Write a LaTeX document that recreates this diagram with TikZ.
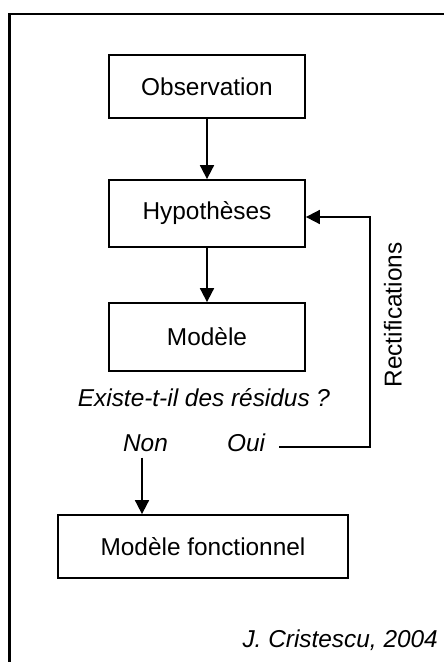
\documentclass[tikz,border=0pt]{standalone}
\usepackage{fontspec}
\setmainfont{Liberation Sans}
\usetikzlibrary{arrows.meta}
\begin{document}
\begin{tikzpicture}[x=1pt,y=1pt,
  box/.style={draw, line width=1.8pt, inner sep=0pt, font=\fontsize{24.4}{29}\selectfont},
  lbl/.style={inner sep=0pt, font=\fontsize{24.4}{29}\selectfont\itshape},
  arr/.style={line width=1.8pt, -{Triangle[length=14pt,width=14pt]}}]
\useasboundingbox (0,0) rectangle (444,-662);
\fill[white] (0,0) rectangle (444,-662);
\draw[line width=2.8pt] (9.5,-662) -- (9.5,-14) -- (444,-14);
\node[box, minimum width=196pt, minimum height=63pt] (obs) at (207,-86.5) {Observation};
\node[box, minimum width=196pt, minimum height=67pt] (hyp) at (207,-213.5) {Hypothèses};
\node[box, minimum width=196pt, minimum height=68pt] (mod) at (207,-337) {Modèle};
\node[box, minimum width=290pt, minimum height=63pt] (mf) at (203,-546.5) {Modèle fonctionnel};
\node[lbl] (q) at (204,-398) {Existe-t-il des résidus ?};
\node[lbl] (non) at (145.5,-443) {Non};
\node[lbl] (oui) at (246,-443) {Oui};
\node[inner sep=0pt, rotate=90, font=\fontsize{24.4}{29}\selectfont] (rect) at (393,-315) {Rectifications};
\node[lbl, anchor=east] (auth) at (438,-640) {J. Cristescu, 2004};
\draw[arr] (obs.south) -- (hyp.north);
\draw[arr] (hyp.south) -- (mod.north);
\coordinate (c1) at (370,-447);
\draw[arr] ([xshift=14pt,yshift=-4pt]oui.east) -- (c1) |- ([yshift=-3.5pt]hyp.east);
\draw[arr] ([xshift=-3.5pt,yshift=-6pt]non.south) -- ([xshift=-3.5pt]non.south |- mf.north);
\end{tikzpicture}
\end{document}
